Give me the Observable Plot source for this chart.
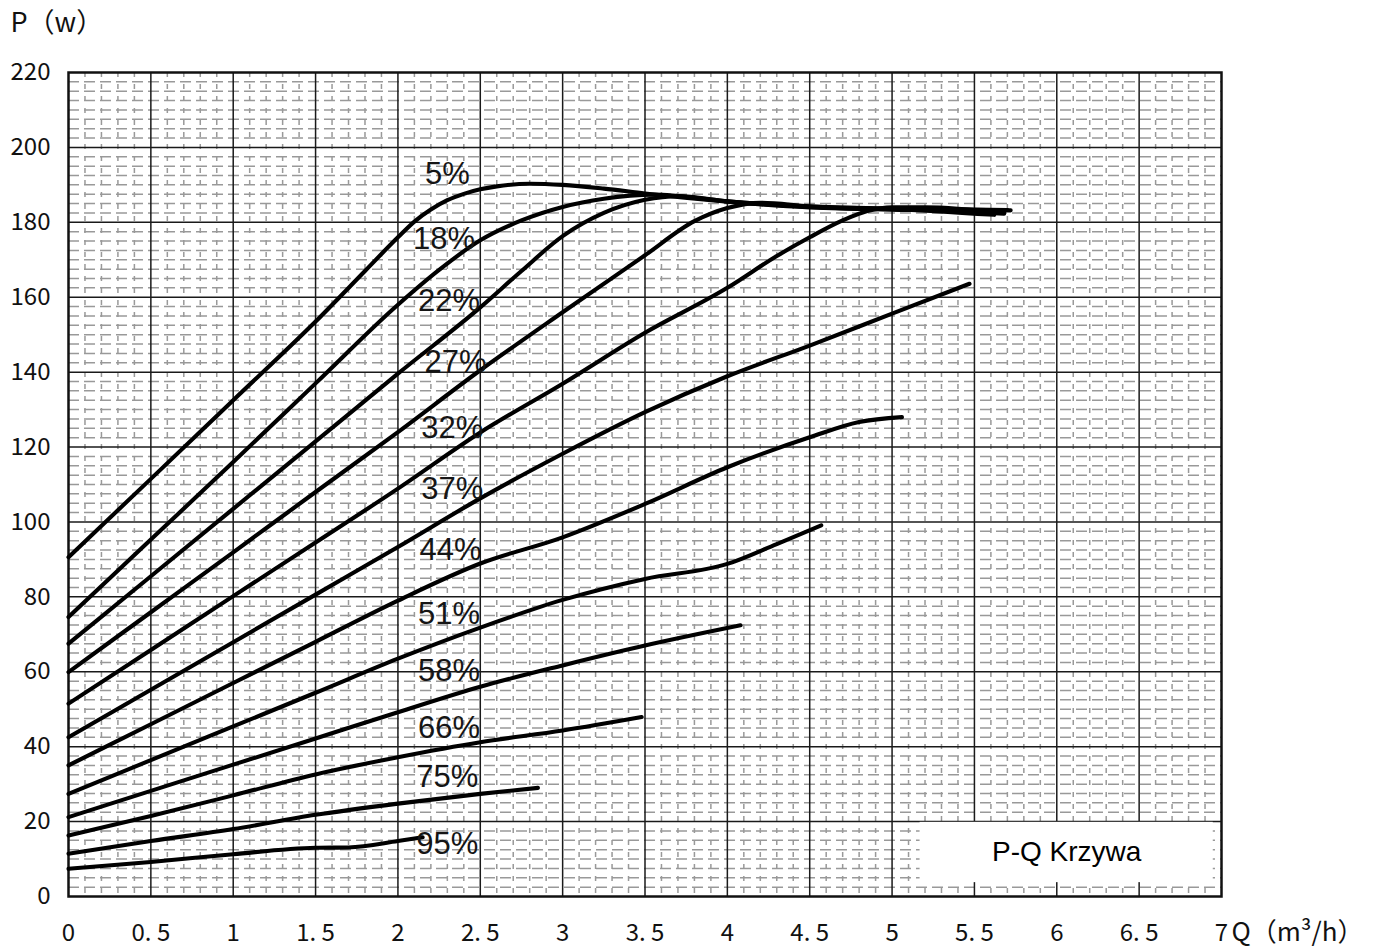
<!DOCTYPE html>
<html>
<head>
<meta charset="utf-8">
<script src="https://cdn.jsdelivr.net/npm/d3@7"></script>
<script src="https://cdn.jsdelivr.net/npm/@observablehq/plot@0.6"></script>
<style>
  html, body { margin: 0; padding: 0; background: #fff; }
  #chart svg { display: block; }
</style>
</head>
<body>
<div id="chart"></div>
<script>
// ---- data (Q in m³/h, P in W) ----
const speedLabels = ["5%","18%","22%","27%","32%","37%","44%","51%","58%","66%","75%","95%"];

const curve05 = [[0,90.6],[0.5,111.5],[1,132.5],[1.5,153.5],[1.8,167],[2,176],[2.1,180.2],[2.2,183.4],[2.3,185.9],[2.4,187.6],[2.5,188.8],[2.6,189.6],[2.8,190.3],[3,190],[3.25,189],[3.5,187.7],[4,185.5],[4.5,184],[5,183.5],[5.3,183.4],[5.72,183.2]];
const curve18 = [[0,74.6],[0.5,95.3],[1,116],[1.5,137],[2,158],[2.25,167.3],[2.5,175.2],[2.75,180.5],[3,184.1],[3.25,186.3],[3.55,187.4],[4,185.6],[4.5,184.1],[5,183.4],[5.3,183.2],[5.68,182.3]];
const curve22 = [[0,67.5],[0.5,85.5],[1,103.5],[1.5,121.5],[2,139.6],[2.5,157.3],[2.75,167],[3,176.3],[3.25,182.5],[3.5,186],[3.7,187],[4,185.6],[4.5,184.2],[5,183.6],[5.3,183.5],[5.7,183.3]];
const curve27 = [[0,59.9],[0.5,75.9],[1,91.9],[1.5,108],[2,124],[2.5,140.5],[3,156],[3.5,171.2],[3.8,180.3],[4,183.8],[4.2,185.2],[4.5,184.3],[5,183.6],[5.62,182]];
const curve32 = [[0,51.5],[0.5,65.8],[1,80.2],[1.5,94.5],[2,108.9],[2.5,123.9],[3,136.9],[3.5,150.5],[4,162.5],[4.3,171],[4.5,176],[4.7,180.5],[4.85,183],[5,184],[5.2,184],[5.68,182.5]];
const curve37 = [[0,42.5],[0.5,55.2],[1,67.9],[1.5,80.6],[2,93.3],[2.5,106.3],[3,118.2],[3.5,129.3],[4,138.9],[4.5,147.1],[5,155.6],[5.47,163.6]];
const curve44 = [[0,35],[0.5,46],[1,57],[1.5,68],[2,79],[2.5,88.9],[3,95.9],[3.5,104.8],[4,114.6],[4.5,122.6],[4.8,126.7],[5.06,128]];
const curve51 = [[0,27.4],[0.5,36.4],[1,45.4],[1.5,54.4],[2,63.5],[2.5,71.8],[3,79.2],[3.5,84.8],[4,88.8],[4.3,94.1],[4.57,99.1]];
const curve58 = [[0,21.2],[0.5,28.2],[1,35.2],[1.5,42.2],[2,49.2],[2.5,56],[3,61.7],[3.5,67],[4.08,72.4]];
const curve66 = [[0,16.3],[0.5,21.5],[1,27],[1.5,32.6],[2,37.2],[2.5,41.2],[3,44.3],[3.48,47.9]];
const curve75 = [[0,11.4],[0.5,14.8],[1,18],[1.5,21.8],[2,24.8],[2.5,27.4],[2.85,29]];
const curve95 = [[0,7.4],[0.5,9.2],[1,11.3],[1.5,13],[1.7,13.1],[2,14.8],[2.15,15.8]];

// label anchor points (data units)
const labelQ = [2.30,2.28,2.31,2.35,2.33,2.33,2.32,2.31,2.31,2.31,2.30,2.30];
const labelP = [192.8,175.4,159.1,142.6,125.0,108.9,92.6,75.3,60.1,44.9,32.0,14.1];

const xTicks = [0,0.5,1,1.5,2,2.5,3,3.5,4,4.5,5,5.5,6,6.5,7];
const xTickLabels = ["0","0. 5","1","1. 5","2","2. 5","3","3. 5","4","4. 5","5","5. 5","6","6. 5","7"];
const yTicks = [0,20,40,60,80,100,120,140,160,180,200,220];

const yTitle = "P（w）";
const xTitle = "Q（m³/h）";
const boxTitle = "P-Q Krzywa";
const noteBox = [{q1: 5.17, q2: 6.95, p1: 3.7, p2: 19.8}];

// ---- build tables ----
const curves = [curve05,curve18,curve22,curve27,curve32,curve37,curve44,curve51,curve58,curve66,curve75,curve95];
const lineData = curves.flatMap((c, i) => c.map(([q, p]) => ({speed: speedLabels[i], q, p})));
const labelData = speedLabels.map((s, i) => ({text: s, q: labelQ[i], p: labelP[i]}));

const minorY = d3.range(2.5, 220, 2.5).filter(v => Math.abs(v % 20) > 1e-6);
const minorX = d3.range(0.1, 7, 0.1).filter(v => Math.abs(v * 2 - Math.round(v * 2)) > 1e-6);
const majorX = xTicks.slice(1, -1);
const majorY = yTicks.slice(1, -1);

const chart = Plot.plot({
  width: 1374,
  height: 951,
  marginLeft: 68,
  marginRight: 153,
  marginTop: 72,
  marginBottom: 55,
  style: {fontFamily: "'Noto Sans CJK SC', 'Noto Sans', sans-serif", background: "#fff", color: "#111"},
  x: {domain: [0, 7], label: null},
  y: {domain: [0, 220], label: null},
  marks: [
    // minor grid (dashed gray)
    Plot.ruleY(minorY, {stroke: "#999", strokeWidth: 1.5, strokeDasharray: "11,5"}),
    Plot.ruleX(minorX, {stroke: "#999", strokeWidth: 1.5, strokeDasharray: "5,7"}),
    // major grid
    Plot.ruleX(majorX, {stroke: "#1a1a1a", strokeWidth: 1.5}),
    Plot.ruleY(majorY, {stroke: "#1a1a1a", strokeWidth: 1.5}),
    // note box
    Plot.rect(noteBox, {x1: "q1", x2: "q2", y1: "p1", y2: "p2", fill: "#fff"}),
    Plot.text(noteBox, {x: d => (d.q1 + d.q2) / 2, y: d => (d.p1 + d.p2) / 2, text: () => boxTitle,
      fontSize: 28, fontFamily: "'Liberation Sans', Arial, sans-serif", fill: "#000"}),
    Plot.frame({stroke: "#111", strokeWidth: 2.5}),
    // curves
    Plot.line(lineData, {x: "q", y: "p", z: "speed", stroke: "#000", strokeWidth: 4.1, curve: "monotone-x"}),
    // curve labels
    Plot.text(labelData, {x: "q", y: "p", text: "text", fontSize: 31,
      fontFamily: "'Liberation Sans', Arial, sans-serif", fill: "#151515"}),
    // axes
    Plot.axisX({ticks: xTicks, tickFormat: d => xTickLabels[Math.round(d * 2)], tickSize: 0, tickPadding: 27, fontSize: 24}),
    Plot.axisY({ticks: yTicks, tickSize: 0, tickPadding: 18, fontSize: 24}),
    // axis titles
    Plot.text([yTitle], {frameAnchor: "top-left", dx: -58, dy: -60, textAnchor: "start", lineAnchor: "top", fontSize: 27}),
    Plot.text([xTitle], {frameAnchor: "bottom-right", dx: 10, dy: 36, textAnchor: "start", lineAnchor: "middle", fontSize: 26})
  ]
});

document.getElementById("chart").appendChild(chart);
</script>
</body>
</html>
